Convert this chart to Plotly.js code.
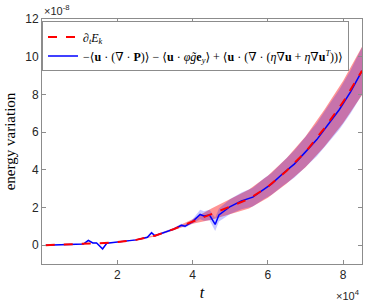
<!DOCTYPE html>
<html>
<head>
<meta charset="utf-8">
<script src="https://cdn.plot.ly/plotly-3.0.1.min.js"></script>
<style>html,body{margin:0;padding:0;background:#fff;}#chart{width:366px;height:305px;}</style>
</head>
<body>
<div id="chart"></div>
<script>
// time in units of 1e4, energy in units of 1e-8
const tRed = [0.1, 0.5, 1.0, 1.5, 2.0, 2.5, 3.0, 3.5, 4.0, 4.5, 5.0, 5.5, 6.0, 6.5, 7.0, 7.5, 8.0, 8.5];
const dEk  = [0.0, 0.02, 0.05, 0.1, 0.16, 0.28, 0.5, 0.85, 1.25, 1.65, 2.05, 2.45, 3.1, 3.95, 4.95, 6.2, 7.6, 9.25];
const redHalf = [0, 0, 0, 0, 0, 0.02, 0.04, 0.06, 0.12, 0.3, 0.4, 0.5, 0.58, 0.68, 0.82, 0.98, 1.12, 1.28];

const tBlue = [0.1, 0.5, 1.0, 1.1, 1.23, 1.35, 1.45, 1.61, 1.72, 2.0, 2.5, 2.8, 2.91, 3.0, 3.5, 3.7, 3.8, 4.0, 4.2, 4.3, 4.45, 4.6, 4.7, 5.0, 5.3, 5.6, 5.9, 6.1, 6.4, 6.7, 7.0, 7.3, 7.6, 7.9, 8.2, 8.5];
const budget = [0.0, 0.02, 0.05, 0.06, 0.25, 0.12, 0.12, -0.2, 0.1, 0.16, 0.28, 0.42, 0.66, 0.5, 0.85, 1.05, 1.0, 1.25, 1.63, 1.55, 1.6, 1.1, 1.6, 2.05, 2.35, 2.55, 3.0, 3.25, 3.8, 4.3, 4.95, 5.6, 6.4, 7.2, 8.15, 9.25];
const blueHalf = [0, 0, 0, 0.02, 0.05, 0.03, 0.03, 0.08, 0.03, 0.02, 0.02, 0.05, 0.08, 0.05, 0.06, 0.08, 0.08, 0.12, 0.25, 0.25, 0.28, 0.35, 0.35, 0.4, 0.45, 0.5, 0.55, 0.58, 0.65, 0.72, 0.8, 0.88, 0.98, 1.06, 1.15, 1.25];

function band(t, y, h) {
  const xs = t.concat(t.slice().reverse());
  const up = y.map((v, i) => v + h[i]);
  const lo = y.map((v, i) => v - h[i]).reverse();
  return {x: xs, y: up.concat(lo)};
}
const rb = band(tRed, dEk, redHalf);
const bb = band(tBlue, budget, blueHalf);

const serif = 'Liberation Serif, DejaVu Serif, serif';
const sans = 'Liberation Sans, Arial, sans-serif';

const traces = [
  {x: rb.x, y: rb.y, fill: 'toself', mode: 'lines', line: {width: 0}, fillcolor: 'rgba(255,0,0,0.42)', showlegend: false, hoverinfo: 'skip'},
  {x: bb.x, y: bb.y, fill: 'toself', mode: 'lines', line: {width: 0}, fillcolor: 'rgba(0,0,255,0.22)', showlegend: false, hoverinfo: 'skip'},
  {x: tBlue, y: budget, mode: 'lines', line: {color: '#0000ff', width: 1.5}, legendrank: 2,
   name: '−⟨<b>u</b> · (∇ · <b>P</b>)⟩ − ⟨<b>u</b> · <i>φg̃</i><b>e</b><sub><i>y</i></sub>⟩ + ⟨<b>u</b> · (∇ · (<i>η</i>∇<b>u</b> + <i>η</i>∇<b>u</b><sup><i>T</i></sup>))⟩'},
  {x: tRed, y: dEk, mode: 'lines', line: {color: '#ff0000', width: 2, dash: 'dash'}, legendrank: 1,
   name: '∂<sub><i>t</i></sub><i>E</i><sub><i>k</i></sub>'}
];

const layout = {
  width: 366, height: 305,
  margin: {l: 42, r: 4, t: 19, b: 41},
  paper_bgcolor: '#fff', plot_bgcolor: '#fff',
  showlegend: true,
  legend: {x: 0, y: 0.99, xanchor: 'left', yanchor: 'top', bgcolor: '#fff', bordercolor: '#8c8c8c', borderwidth: 1,
           font: {family: serif, size: 12, color: '#000'}, tracegroupgap: 0, itemwidth: 30},
  xaxis: {range: [0, 8.5], tickvals: [2, 4, 6, 8], ticks: 'inside', ticklen: 4, tickcolor: '#8c8c8c',
          showline: true, linecolor: '#8c8c8c', linewidth: 1, mirror: 'ticks', showgrid: false, zeroline: false,
          tickfont: {family: sans, size: 12, color: '#262626'},
          title: {text: '<i>t</i>', font: {family: serif, size: 16, color: '#000'}, standoff: 5}},
  yaxis: {range: [-1, 12], dtick: 2, ticks: 'inside', ticklen: 4, tickcolor: '#8c8c8c',
          showline: true, linecolor: '#8c8c8c', linewidth: 1, mirror: 'ticks', showgrid: false, zeroline: false,
          tickfont: {family: sans, size: 12, color: '#262626'},
          title: {text: 'energy variation', font: {family: serif, size: 15, color: '#000'}, standoff: 5}},
  annotations: [
    {xref: 'paper', yref: 'paper', x: 0, y: 1, xanchor: 'left', yanchor: 'bottom', yshift: 0, showarrow: false,
     text: '×10<sup>-8</sup>', font: {family: sans, size: 11, color: '#262626'}},
    {xref: 'paper', yref: 'paper', x: 1, y: 0, xanchor: 'right', yanchor: 'top', yshift: -22, showarrow: false,
     text: '×10<sup>4</sup>', font: {family: sans, size: 11, color: '#262626'}}
  ]
};

Plotly.newPlot('chart', traces, layout, {staticPlot: true, displayModeBar: false});
</script>
</body>
</html>
